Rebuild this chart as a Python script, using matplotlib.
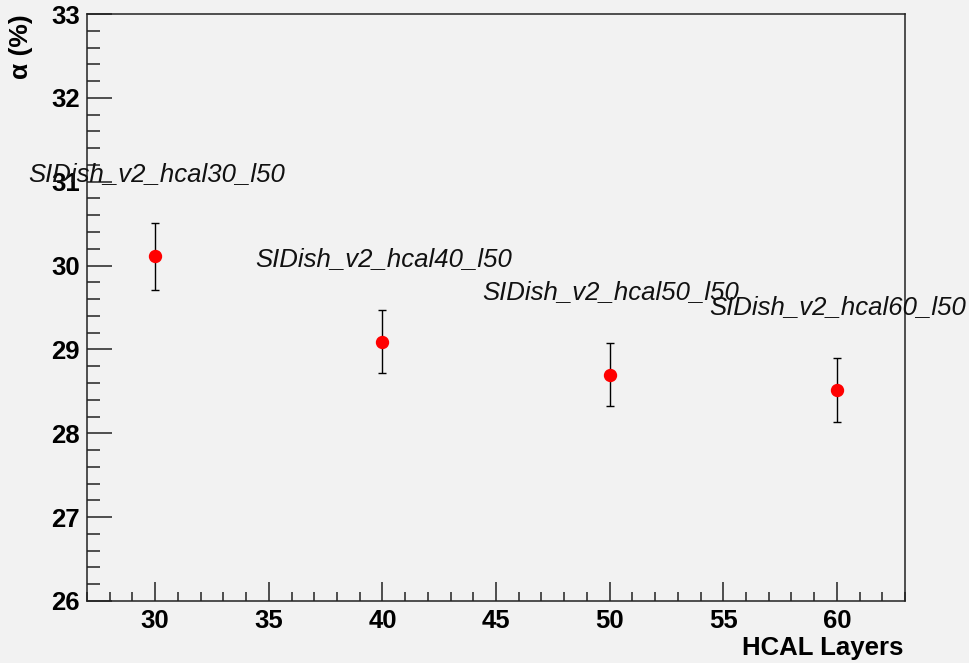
import matplotlib
matplotlib.use("Agg")
import matplotlib.pyplot as plt
from matplotlib.ticker import MultipleLocator

plt.rcParams['font.family'] = ['Liberation Sans', 'DejaVu Sans']

layers = [30, 40, 50, 60]
alpha = [30.11, 29.09, 28.70, 28.52]
alpha_err = [0.40, 0.375, 0.38, 0.38]
labels = ["SIDish_v2_hcal30_l50", "SIDish_v2_hcal40_l50",
          "SIDish_v2_hcal50_l50", "SIDish_v2_hcal60_l50"]

bg = '#f2f2f2'
fig = plt.figure(figsize=(9.69, 6.63), dpi=100, facecolor=bg)
ax = fig.add_axes([87/969, 1-601/663, (905-87)/969, (601-14)/663], facecolor=bg)

ax.errorbar(layers, alpha, yerr=alpha_err, fmt='o', color='red', ms=8.6,
            ecolor='black', elinewidth=1.0, capsize=3, capthick=1.0, zorder=3)

for x, y, t in zip(layers, alpha, labels):
    ax.text(x - 5.6, y + 0.9, t, fontsize=18.5, style='italic', color='#111111',
            ha='left', va='baseline', clip_on=False, zorder=4)

ax.set_xlim(27, 63)
ax.set_ylim(26, 33)
ax.xaxis.set_major_locator(MultipleLocator(5))
ax.xaxis.set_minor_locator(MultipleLocator(1))
ax.yaxis.set_major_locator(MultipleLocator(1))
ax.yaxis.set_minor_locator(MultipleLocator(0.2))

for s in ax.spines.values():
    s.set_linewidth(1.1)
    s.set_color('#222222')

ax.tick_params(axis='x', which='major', direction='in', length=13.5, width=1.1,
               color='#222222', labelsize=18.5, pad=6, top=False)
ax.tick_params(axis='x', which='minor', direction='in', length=6.7, width=1.1,
               color='#222222', top=False)
ax.tick_params(axis='y', which='major', direction='in', length=18, width=1.1,
               color='#222222', labelsize=18.5, pad=5, right=False)
ax.tick_params(axis='y', which='minor', direction='in', length=9.3, width=1.1,
               color='#222222', right=False)
for lab in ax.get_xticklabels() + ax.get_yticklabels():
    lab.set_fontweight('bold')

fig.text(903/969, 1-655/663, "HCAL Layers", fontsize=18.5, fontweight='bold',
         ha='right', va='baseline')
fig.text(33/969, 1-14/663, "α (%)", fontsize=19, fontweight='bold',
         rotation=90, ha='right', va='top')

fig.savefig("out.png", dpi=100, facecolor=bg)
